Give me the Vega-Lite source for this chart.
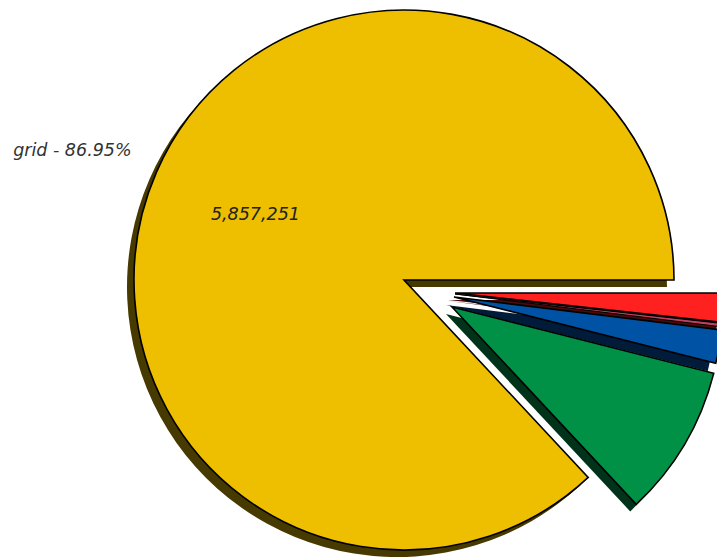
{
  "$schema": "https://vega.github.io/schema/vega-lite/v6.json",
  "autosize": {"type": "none"},
  "width": 584,
  "height": 532,
  "padding": {"left": 133, "top": 25, "right": 0, "bottom": 0},
  "background": "white",
  "view": {"stroke": null},
  "data": {
    "values": [
      {"name": "grid", "value": 5857251, "ord": 5, "label": "grid - 86.95%"},
      {"name": "green", "value": 613007, "ord": 4, "label": ""},
      {"name": "blue", "value": 134727, "ord": 3, "label": ""},
      {"name": "other", "value": 13473, "ord": 2, "label": ""},
      {"name": "red", "value": 117886, "ord": 1, "label": ""}
    ]
  },
  "encoding": {
    "theta": {"field": "value", "type": "quantitative", "stack": true, "scale": {"range": [1.5707963, 7.8539816]}},
    "order": {"field": "ord", "type": "quantitative"}
  },
  "layer": [
    {"mark": {"type": "arc", "radius": 270, "fill": "#473a00", "xOffset": -28, "yOffset": -4},
     "encoding": {"opacity": {"condition": {"test": "datum.name === 'grid'", "value": 1}, "value": 0}}},
    {"mark": {"type": "arc", "radius": 270, "fill": "#00331a", "xOffset": 21, "yOffset": 23},
     "encoding": {"opacity": {"condition": {"test": "datum.name === 'green'", "value": 1}, "value": 0}}},
    {"mark": {"type": "arc", "radius": 270, "fill": "#001c3a", "xOffset": 21, "yOffset": 14},
     "encoding": {"opacity": {"condition": {"test": "datum.name === 'blue'", "value": 1}, "value": 0}}},
    {"mark": {"type": "arc", "radius": 270, "fill": "#3a0a14", "xOffset": 23, "yOffset": 10},
     "encoding": {"opacity": {"condition": {"test": "datum.name === 'other'", "value": 1}, "value": 0}}},
    {"mark": {"type": "arc", "radius": 270, "fill": "#4d0909", "xOffset": 23, "yOffset": 9},
     "encoding": {"opacity": {"condition": {"test": "datum.name === 'red'", "value": 1}, "value": 0}}},
    {"mark": {"type": "arc", "radius": 270, "fill": "#EDBF00", "stroke": "black", "strokeWidth": 1.6, "strokeJoin": "miter", "xOffset": -21, "yOffset": -11},
     "encoding": {"opacity": {"condition": {"test": "datum.name === 'grid'", "value": 1}, "value": 0}}},
    {"mark": {"type": "arc", "radius": 270, "fill": "#009147", "stroke": "black", "strokeWidth": 1.6, "strokeJoin": "miter", "xOffset": 27, "yOffset": 16},
     "encoding": {"opacity": {"condition": {"test": "datum.name === 'green'", "value": 1}, "value": 0}}},
    {"mark": {"type": "arc", "radius": 270, "fill": "#0052A5", "stroke": "black", "strokeWidth": 1.6, "strokeJoin": "miter", "xOffset": 29, "yOffset": 6},
     "encoding": {"opacity": {"condition": {"test": "datum.name === 'blue'", "value": 1}, "value": 0}}},
    {"mark": {"type": "arc", "radius": 270, "fill": "#c04060", "stroke": "black", "strokeWidth": 1.0, "strokeJoin": "miter", "xOffset": 30, "yOffset": 3},
     "encoding": {"opacity": {"condition": {"test": "datum.name === 'other'", "value": 1}, "value": 0}}},
    {"mark": {"type": "arc", "radius": 270, "fill": "#FF2020", "stroke": "black", "strokeWidth": 1.6, "strokeJoin": "miter", "xOffset": 30, "yOffset": 2},
     "encoding": {"opacity": {"condition": {"test": "datum.name === 'red'", "value": 1}, "value": 0}}},
    {"mark": {"type": "text", "radius": 162, "font": "DejaVu Sans", "fontStyle": "italic", "fontSize": 17.5, "color": "#222222", "align": "center", "baseline": "middle", "xOffset": -21, "yOffset": -11},
     "encoding": {"text": {"field": "value", "type": "quantitative", "format": ","},
                  "opacity": {"condition": {"test": "datum.name === 'grid'", "value": 1}, "value": 0}}},
    {"mark": {"type": "text", "radius": 297, "font": "DejaVu Sans", "fontStyle": "italic", "fontSize": 17.5, "color": "#333333", "align": "right", "baseline": "middle", "xOffset": -21, "yOffset": -11, "dy": -11},
     "encoding": {"text": {"field": "label", "type": "nominal"},
                  "opacity": {"condition": {"test": "datum.name === 'grid'", "value": 1}, "value": 0}}}
  ]
}
